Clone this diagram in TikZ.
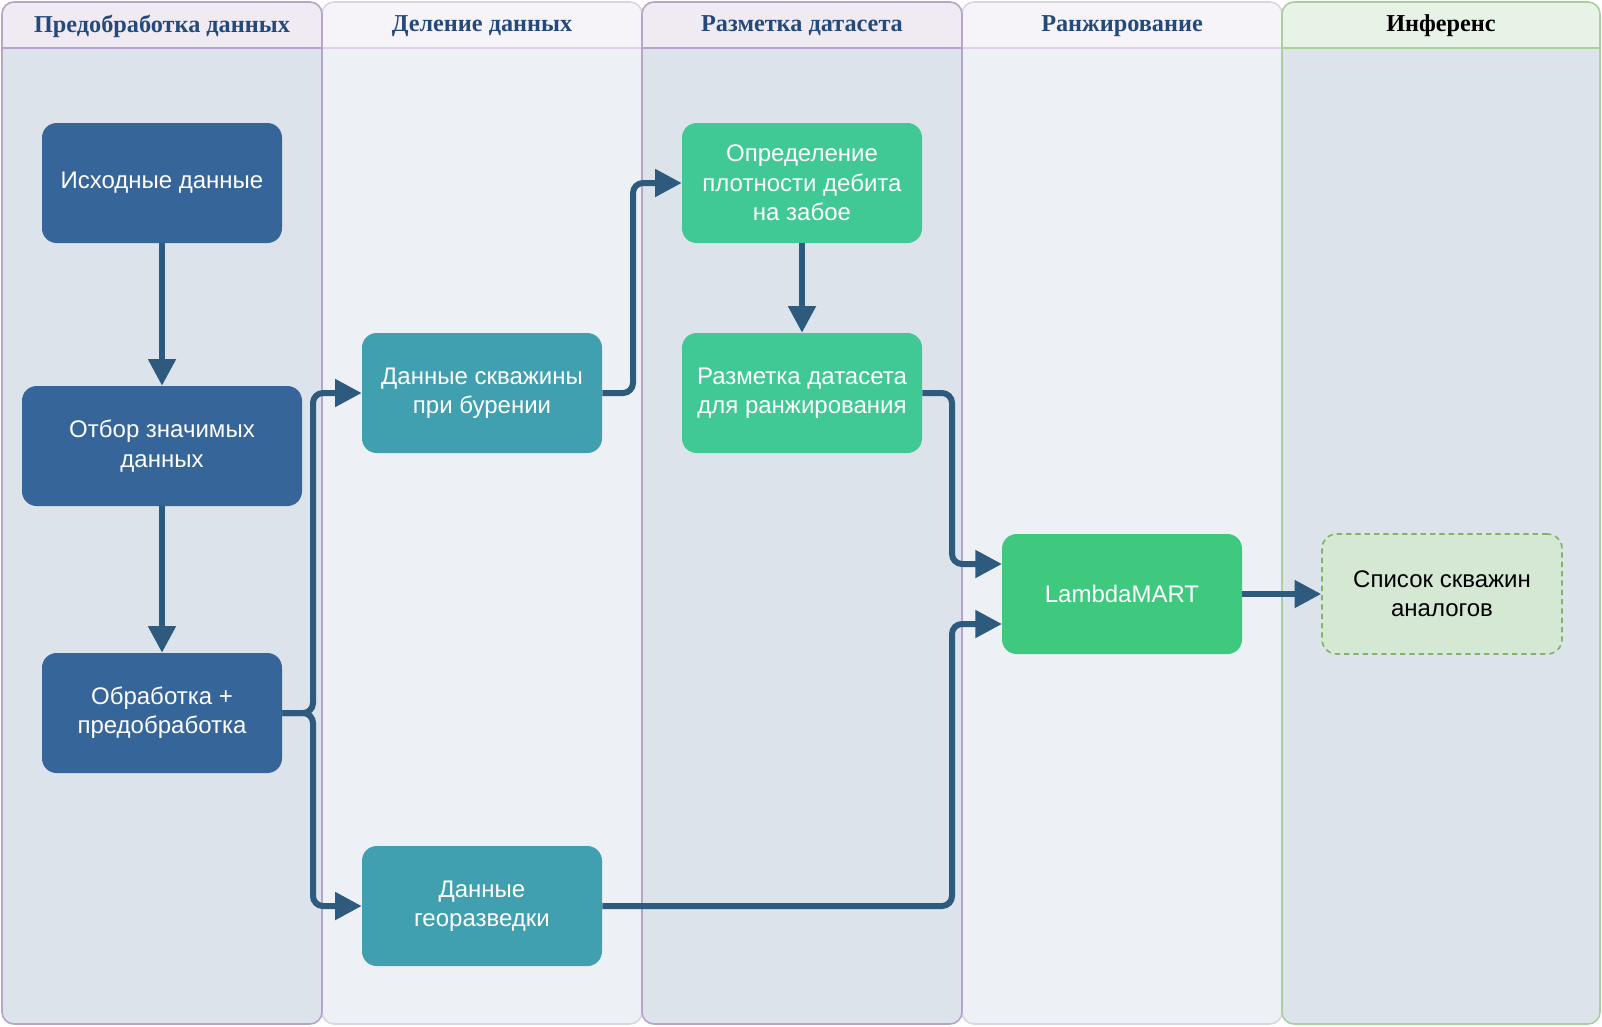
\documentclass[tikz,border=0pt]{standalone}
\usepackage{fontspec}
\setmainfont{Liberation Sans}
\newfontfamily\hdrfont{Liberation Serif}
\usetikzlibrary{arrows.meta}
\definecolor{laneA}{HTML}{DCE3EA}
\definecolor{laneB}{HTML}{EDF1F5}
\definecolor{hdrA}{HTML}{F0EAF3}
\definecolor{hdrB}{HTML}{F6F4F9}
\definecolor{hdrG}{HTML}{E8F3E8}
\definecolor{brdA}{HTML}{B7A4CA}
\definecolor{brdB}{HTML}{DDD3E6}
\definecolor{brdG}{HTML}{A9CF9D}
\definecolor{hdrtxt}{HTML}{24497B}
\definecolor{cblue}{HTML}{36659A}
\definecolor{cteal}{HTML}{41A0B0}
\definecolor{cmint}{HTML}{40C994}
\definecolor{cgreen}{HTML}{3EC97F}
\definecolor{cres}{HTML}{D5E8D4}
\definecolor{cresb}{HTML}{82B366}
\definecolor{flowc}{HTML}{2E5B7D}
\tikzset{
  hdr/.style={font=\hdrfont\bfseries\fontsize{18.2pt}{21pt}\selectfont, inner sep=0pt},
  box/.style={rounded corners=11pt, minimum width=180pt, minimum height=90pt, inner sep=2pt,
    align=center, text=white, font=\fontsize{18pt}{22pt}\selectfont},
  flow/.style={draw=flowc, line width=4.5pt, rounded corners=7.5pt,
    -{Triangle[length=20pt,width=20pt]}},
}
\newcommand\mylane[8]{%
  \fill[#3,rounded corners=9pt] (#1,2) rectangle (#2,1024);
  \begin{scope}
    \clip (#1,0) rectangle (#2,48);
    \fill[#4,rounded corners=9pt] (#1,2) rectangle (#2,1024);
  \end{scope}
  \draw[#5,line width=1.2pt,rounded corners=9pt] (#1,2) rectangle (#2,1024);
  \draw[#5,line width=1.2pt] (#1,48) -- (#2,48);
  \node[hdr,text=#7] (#8) at ({(#1+#2)/2},26) {#6};
}
\begin{document}
\begin{tikzpicture}[x=0.75pt,y=-0.75pt]
\useasboundingbox (0,0) rectangle (1602,1026);
% lanes
\mylane{322}{642}{laneB}{hdrB}{brdB}{Деление данных}{hdrtxt}{h2}
\mylane{962}{1282}{laneB}{hdrB}{brdB}{Ранжирование}{hdrtxt}{h4}
\mylane{2}{322}{laneA}{hdrA}{brdA}{Предобработка данных}{hdrtxt}{h1}
\mylane{642}{962}{laneA}{hdrA}{brdA}{Разметка датасета}{hdrtxt}{h3}
\mylane{1282}{1600}{laneA}{hdrG}{brdG}{Инференс}{black}{h5}
% nodes
\node[box,fill=cblue] (n1) at (162,183) {Исходные данные};
\node[box,fill=cblue,minimum width=210pt] (n2) at (162,446) {Отбор значимых\\данных};
\node[box,fill=cblue] (n3) at (162,713) {Обработка +\\предобработка};
\node[box,fill=cteal] (n4) at (482,393) {Данные скважины\\при бурении};
\node[box,fill=cteal] (n5) at (482,906) {Данные\\георазведки};
\node[box,fill=cmint] (n6) at (802,183) {Определение\\плотности дебита\\на забое};
\node[box,fill=cmint] (n7) at (802,393) {Разметка датасета\\для ранжирования};
\node[box,fill=cgreen] (n8) at (1122,594) {LambdaMART};
\node[box,fill=cres,draw=cresb,line width=1.2pt,dash pattern=on 4pt off 3pt,text=black] (n9) at (1442,594) {Список скважин\\аналогов};
% junction coordinates
\coordinate (j1) at (313,713);
\coordinate (j2) at (633,393);
\coordinate (j3) at (952,393);
\coordinate (j4) at (952,906);
\coordinate (n8a) at (1002,564);
\coordinate (n8b) at (1002,624);
% connectors
\draw[flow] (n1) -- (n2);
\draw[flow] (n2) -- (n3);
\draw[flow] (n3.east) -- (j1) |- (n4.west);
\draw[flow] (n3.east) -- (j1) |- (n5.west);
\draw[flow] (n4.east) -- (j2) |- (n6.west);
\draw[flow] (n6) -- (n7);
\draw[flow] (n7.east) -- (j3) |- (n8a);
\draw[flow] (n5.east) -- (j4) |- (n8b);
\draw[flow] (n8) -- (n9);
\end{tikzpicture}
\end{document}
